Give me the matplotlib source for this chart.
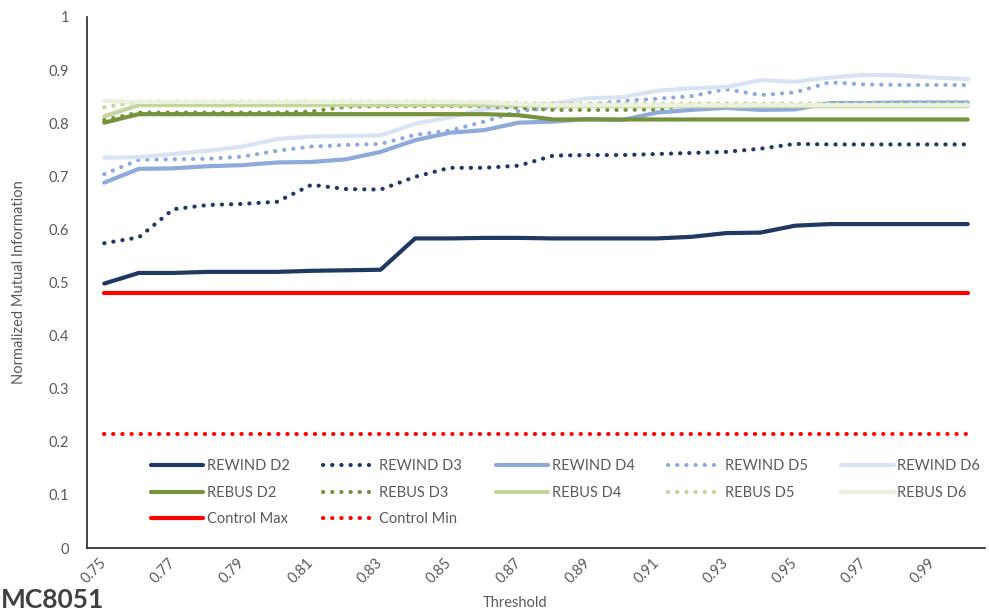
import matplotlib
matplotlib.use("Agg")
import matplotlib.pyplot as plt

plt.rcParams['font.family'] = ['Lato', 'DejaVu Sans']

# thresholds on the x axis
thresholds = [0.75, 0.76, 0.77, 0.78, 0.79, 0.80, 0.81, 0.82, 0.83, 0.84, 0.85, 0.86, 0.87,
              0.88, 0.89, 0.90, 0.91, 0.92, 0.93, 0.94, 0.95, 0.96, 0.97, 0.98, 0.99, 1.00]
tick_labels = ['0.75', '0.77', '0.79', '0.81', '0.83', '0.85', '0.87',
               '0.89', '0.91', '0.93', '0.95', '0.97', '0.99']

# NMI per threshold
rewind_d2 = [0.498, 0.518, 0.518, 0.520, 0.520, 0.520, 0.522, 0.523, 0.524, 0.583, 0.583, 0.584, 0.584,
             0.583, 0.583, 0.583, 0.583, 0.586, 0.593, 0.594, 0.607, 0.610, 0.610, 0.610, 0.610, 0.610]
rewind_d3 = [0.574, 0.585, 0.638, 0.646, 0.648, 0.652, 0.684, 0.676, 0.675, 0.699, 0.716, 0.716, 0.720,
             0.739, 0.740, 0.740, 0.742, 0.744, 0.746, 0.752, 0.761, 0.760, 0.760, 0.760, 0.760, 0.760]
rewind_d4 = [0.688, 0.714, 0.715, 0.719, 0.721, 0.726, 0.727, 0.732, 0.746, 0.768, 0.782, 0.787, 0.801,
             0.803, 0.808, 0.806, 0.820, 0.825, 0.829, 0.825, 0.826, 0.838, 0.838, 0.839, 0.839, 0.839]
rewind_d5 = [0.704, 0.731, 0.732, 0.733, 0.737, 0.748, 0.756, 0.759, 0.761, 0.778, 0.786, 0.803, 0.823,
             0.829, 0.835, 0.842, 0.846, 0.851, 0.864, 0.853, 0.858, 0.877, 0.873, 0.872, 0.872, 0.872]
rewind_d6 = [0.735, 0.736, 0.742, 0.748, 0.756, 0.770, 0.775, 0.776, 0.777, 0.799, 0.811, 0.826, 0.832,
             0.837, 0.847, 0.849, 0.861, 0.866, 0.868, 0.881, 0.878, 0.886, 0.891, 0.890, 0.886, 0.883]
rebus_d2 = [0.801, 0.817, 0.817, 0.817, 0.817, 0.817, 0.817, 0.817, 0.817, 0.817, 0.817, 0.817, 0.815,
            0.807, 0.807, 0.807, 0.807, 0.807, 0.807, 0.807, 0.807, 0.807, 0.807, 0.807, 0.807, 0.807]
rebus_d3 = [0.806, 0.820, 0.820, 0.820, 0.820, 0.820, 0.822, 0.831, 0.832, 0.832, 0.832, 0.832, 0.829,
            0.825, 0.825, 0.825, 0.826, 0.835, 0.835, 0.835, 0.835, 0.835, 0.835, 0.835, 0.835, 0.835]
rebus_d4 = [0.813, 0.834, 0.834, 0.834, 0.834, 0.834, 0.834, 0.834, 0.834, 0.834, 0.834, 0.834, 0.834,
            0.832, 0.832, 0.832, 0.832, 0.832, 0.832, 0.832, 0.832, 0.832, 0.832, 0.832, 0.832, 0.832]
rebus_d5 = [0.830, 0.841, 0.841, 0.841, 0.841, 0.841, 0.841, 0.841, 0.841, 0.841, 0.841, 0.840, 0.838,
            0.837, 0.837, 0.837, 0.837, 0.837, 0.837, 0.837, 0.837, 0.837, 0.837, 0.837, 0.837, 0.837]
rebus_d6 = [0.842, 0.840, 0.840, 0.840, 0.840, 0.840, 0.840, 0.840, 0.840, 0.840, 0.840, 0.839, 0.836,
            0.834, 0.834, 0.834, 0.834, 0.834, 0.834, 0.834, 0.834, 0.834, 0.834, 0.834, 0.834, 0.834]
control_max = [0.48] * len(thresholds)
control_min = [0.215] * len(thresholds)

navy = '#203864'
blue = '#8eaadb'
paleblue = '#dae3f3'
olive = '#76923c'
lightgreen = '#c3d69b'
palegreen = '#ebf1de'
red = '#ff0000'
dots = (0, (0.05, 2.15))

series = [
    ('REWIND D2', rewind_d2, navy, '-'),
    ('REWIND D3', rewind_d3, navy, dots),
    ('REWIND D4', rewind_d4, blue, '-'),
    ('REWIND D5', rewind_d5, blue, dots),
    ('REWIND D6', rewind_d6, paleblue, '-'),
    ('REBUS D2', rebus_d2, olive, '-'),
    ('REBUS D3', rebus_d3, olive, dots),
    ('REBUS D4', rebus_d4, lightgreen, '-'),
    ('REBUS D5', rebus_d5, lightgreen, dots),
    ('REBUS D6', rebus_d6, palegreen, '-'),
    ('Control Max', control_max, red, '-'),
    ('Control Min', control_min, red, dots),
]

fig = plt.figure(figsize=(9.89, 6.13), dpi=100)
ax = fig.add_axes([87 / 989, 1 - 548 / 613, 898 / 989, 531 / 613])

lines = []
for name, vals, col, ls in series:
    ln, = ax.plot(thresholds, vals, color=col, linestyle=ls, linewidth=3.0,
                  solid_capstyle='round', dash_capstyle='round', label=name)
    lines.append(ln)

ax.set_xlim(0.745, 1.005)
ax.set_ylim(0, 1)
ax.set_yticks([i / 10 for i in range(11)])
ax.set_yticklabels(['0', '0.1', '0.2', '0.3', '0.4', '0.5', '0.6', '0.7', '0.8', '0.9', '1'])
ax.set_xticks(thresholds[::2])
ax.set_xticklabels(tick_labels, rotation=45, ha='right', va='center', rotation_mode='anchor')
ax.tick_params(axis='both', length=0, labelsize=10.5, labelcolor='#595959')
ax.tick_params(axis='y', pad=13)
ax.tick_params(axis='x', pad=9)

for s in ['top', 'right']:
    ax.spines[s].set_visible(False)
for s in ['left', 'bottom']:
    ax.spines[s].set_color('#262626')
    ax.spines[s].set_linewidth(1.2)

ax.set_ylabel('Normalized Mutual Information', fontsize=10.5, color='#595959', labelpad=16)
fig.text(515 / 989, 1 - 603 / 613, 'Threshold', fontsize=10.5, color='#595959',
         ha='center', va='center')
fig.text(0.001, 0.001, 'MC8051', fontsize=19, fontweight='bold', color='#404040',
         ha='left', va='bottom')

# legend fills column by column, so order entries to read row by row
order = [0, 5, 10, 1, 6, 11, 2, 7, 3, 8, 4, 9]
ax.legend([lines[i] for i in order], [series[i][0] for i in order],
          loc='upper left', bbox_to_anchor=(0.071, 0.167), ncol=5, frameon=False,
          fontsize=10.5, labelcolor='#595959', handlelength=3.6, handletextpad=0.25,
          columnspacing=2.3, labelspacing=0.85, borderpad=0, borderaxespad=0)

fig.savefig('out.png', dpi=100)
